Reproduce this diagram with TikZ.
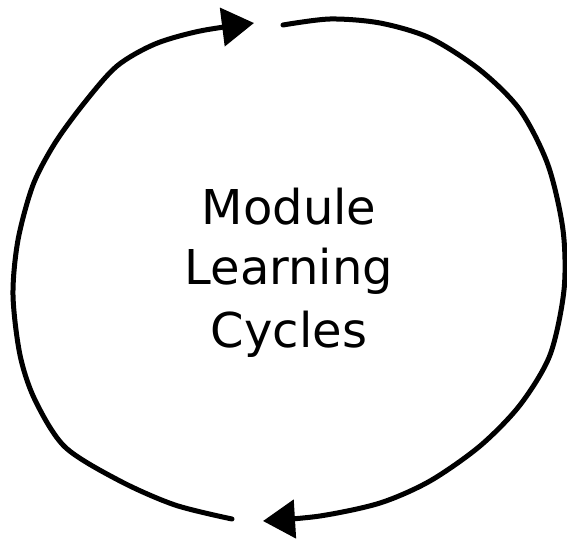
\documentclass[tikz,border=0pt]{standalone}
\usepackage{fontspec}
\setmainfont{DejaVu Sans}
\usetikzlibrary{arrows.meta}
\begin{document}
\begin{tikzpicture}[x=1pt,y=-1pt,
  cycarc/.style={line width=5pt, line cap=round, -{Triangle[length=32pt,width=38pt]}},
  label/.style={anchor=base, inner sep=0pt, font=\fontsize{48}{56}\selectfont}]
\useasboundingbox (0,0) rectangle (567,543);
\node[label] (l1) at (289,224) {Module};
\node[label] (l2) at (289,284) {Learning};
\node[label] (l3) at (289,347) {Cycles};
\draw[cycarc] plot[smooth] coordinates {(232,519) (175,505) (120,481) (65,447) (35,400) (20,355) (13,295) (18,240) (33,185) (55,143) (85,102) (117,66) (155,44) (200,31) (254,23)};
\draw[cycarc] plot[smooth] coordinates {(283,25) (330,19) (380,23) (430,38) (480,70) (520,110) (548,165) (563,230) (564,290) (550,355) (520,405) (480,446) (430,481) (380,503) (320,516) (263,521)};
\end{tikzpicture}
\end{document}
